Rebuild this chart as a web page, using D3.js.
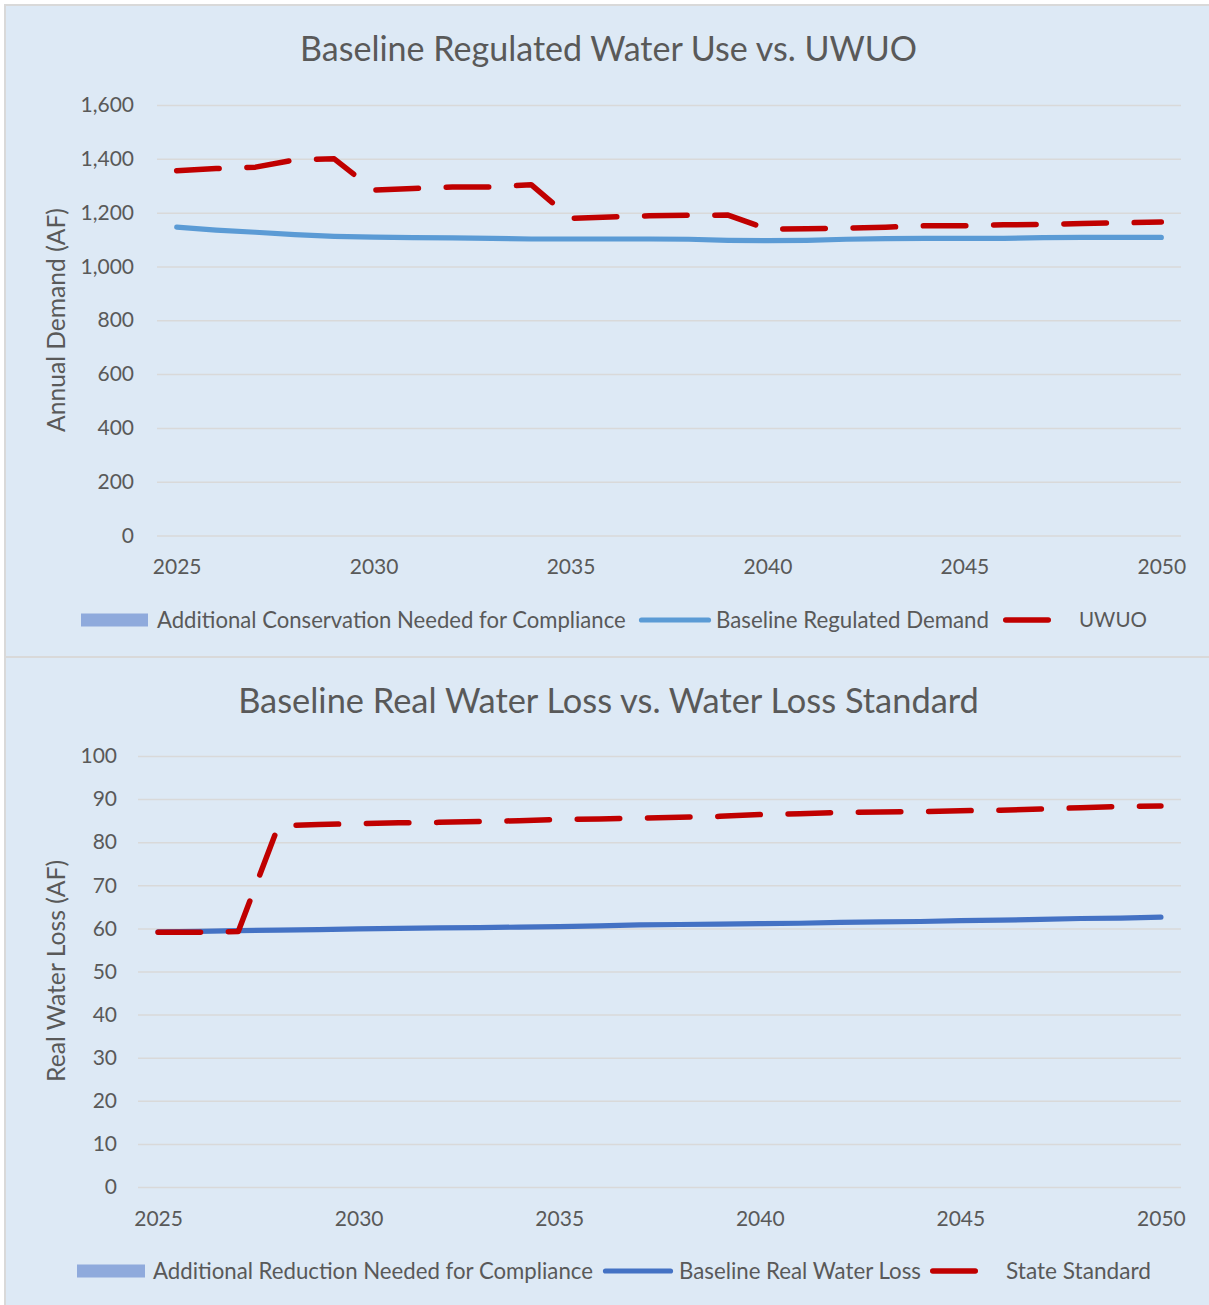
<!DOCTYPE html>
<html>
<head>
<meta charset="utf-8">
<script src="https://cdn.jsdelivr.net/npm/d3@7"></script>
<style>
  html, body { margin: 0; padding: 0; background: #ffffff; }
  svg { display: block; }
  text { font-family: Lato, "Open Sans", "Noto Sans", sans-serif; fill: #595959; }
</style>
</head>
<body>
<svg id="chart" width="1209" height="1305"></svg>
<script>
// ---------- DATA ----------
const years = [2025, 2026, 2027, 2028, 2029, 2030, 2031, 2032, 2033, 2034, 2035, 2036, 2037,
               2038, 2039, 2040, 2041, 2042, 2043, 2044, 2045, 2046, 2047, 2048, 2049, 2050];
const xTickYears = [2025, 2030, 2035, 2040, 2045, 2050];

// Chart 1: Baseline Regulated Water Use vs. UWUO (AF)
const conservationNeeded = [0, 0, 0, 0, 0, 0, 0, 0, 0, 0, 0, 0, 0, 0, 0, 0, 0, 0, 0, 0, 0, 0, 0, 0, 0, 0];
const baselineDemand = [1146, 1135, 1127, 1118, 1112, 1109, 1107, 1106, 1104, 1102, 1102, 1102, 1102,
                        1101, 1097, 1096, 1097, 1101, 1103, 1104, 1104, 1104, 1107, 1108, 1108, 1108];
const uwuo = [1356, 1364, 1369, 1396, 1400, 1284, 1290, 1295, 1295, 1304, 1179, 1184, 1188,
              1190, 1191, 1139, 1140, 1142, 1146, 1151, 1151, 1155, 1156, 1160, 1162, 1165];
const yTicks1 = [0, 200, 400, 600, 800, 1000, 1200, 1400, 1600];

// Chart 2: Baseline Real Water Loss vs. Water Loss Standard (AF)
const reductionNeeded = [0, 0, 0, 0, 0, 0, 0, 0, 0, 0, 0, 0, 0, 0, 0, 0, 0, 0, 0, 0, 0, 0, 0, 0, 0, 0];
const realWaterLoss = [59.2, 59.3, 59.5, 59.6, 59.7, 59.9, 60.0, 60.1, 60.2, 60.3, 60.4, 60.6, 60.8,
                       60.9, 61.0, 61.1, 61.2, 61.4, 61.5, 61.6, 61.8, 61.9, 62.1, 62.3, 62.4, 62.6];
const stateStandard = [59.1, 59.1, 59.3, 83.8, 84.1, 84.3, 84.5, 84.6, 84.8, 85.0, 85.3, 85.4, 85.6,
                       85.8, 86.0, 86.4, 86.6, 86.9, 87.0, 87.1, 87.3, 87.4, 87.7, 88.0, 88.3, 88.4];
const yTicks2 = [0, 10, 20, 30, 40, 50, 60, 70, 80, 90, 100];

// ---------- DRAWING ----------
const svg = d3.select("#chart");
const BG = "#dde9f5", BORDER = "#d9d9d9", TXT = "#595959";
const RED = "#c00000", AREA = "#8faadc";

svg.append("rect").attr("x", 0).attr("y", 0).attr("width", 1209).attr("height", 1305).attr("fill", "#ffffff");
svg.append("rect").attr("x", 5).attr("y", 5).attr("width", 1210).attr("height", 1310)
   .attr("fill", BG).attr("stroke", BORDER).attr("stroke-width", 2);
svg.append("line").attr("x1", 5).attr("x2", 1209).attr("y1", 657).attr("y2", 657)
   .attr("stroke", BORDER).attr("stroke-width", 2);

function fit(sel, w) {
  sel.each(function () {
    const t = d3.select(this);
    const fs = parseFloat(t.attr("font-size"));
    const len = this.getComputedTextLength();
    if (len > 0) t.attr("font-size", (fs * w / len).toFixed(2));
  });
}

function drawChart(cfg) {
  const g = svg.append("g");
  const x = d3.scalePoint().domain(years).range([cfg.left, cfg.right]).padding(0.5);
  const y = d3.scaleLinear().domain([cfg.yTicks[0], cfg.yTicks[cfg.yTicks.length - 1]])
              .range([cfg.bottom, cfg.top]);

  // y axis with gridlines
  const ya = g.append("g").attr("transform", `translate(${cfg.left},0)`)
    .call(d3.axisLeft(y).tickValues(cfg.yTicks).tickFormat(d3.format(","))
          .tickSize(-(cfg.right - cfg.left)).tickPadding(cfg.tickPad));
  ya.select(".domain").remove();
  ya.selectAll(".tick line").attr("stroke", BORDER).attr("stroke-width", 1.5);
  ya.selectAll(".tick text").attr("font-size", 21).attr("fill", TXT)
    .style("font-family", "Lato, sans-serif");

  // x axis labels
  const xa = g.append("g").attr("transform", `translate(0,${cfg.bottom})`)
    .call(d3.axisBottom(x).tickValues(xTickYears).tickFormat(d3.format("d")).tickSize(0));
  xa.select(".domain").remove();
  xa.selectAll(".tick text").attr("y", 31.5).attr("dy", "0.35em").attr("font-size", 21)
    .attr("fill", TXT).style("font-family", "Lato, sans-serif");

  // area series (additional needed) stacked on baseline
  const area = d3.area().x((d, i) => x(years[i]))
    .y0((d, i) => y(cfg.base[i])).y1((d, i) => y(cfg.base[i] + d));
  g.append("path").datum(cfg.areaVals).attr("d", area).attr("fill", AREA);

  const line = d3.line().x((d, i) => x(years[i])).y(d => y(d));
  g.append("path").datum(cfg.base).attr("d", line).attr("fill", "none")
    .attr("stroke", cfg.blue).attr("stroke-width", 5.2)
    .attr("stroke-linecap", "round").attr("stroke-linejoin", "round");
  g.append("path").datum(cfg.std).attr("d", line).attr("fill", "none")
    .attr("stroke", RED).attr("stroke-width", 5.5).attr("stroke-dasharray", "42.5 27.8")
    .attr("stroke-linecap", "round").attr("stroke-linejoin", "round");

  // title
  const title = g.append("text").attr("x", cfg.titleCx).attr("y", cfg.titleY)
    .attr("text-anchor", "middle").attr("font-size", 32).attr("fill", TXT).text(cfg.title);
  fit(title, cfg.titleW);

  // y axis title
  const yt = g.append("text").attr("transform", `translate(${cfg.ytX},${cfg.ytCy}) rotate(-90)`)
    .attr("text-anchor", "middle").attr("dy", "0.35em").attr("font-size", 21).attr("fill", TXT)
    .text(cfg.yTitle);
  fit(yt, cfg.ytW);

  // legend
  const ly = cfg.legendY;
  const L = cfg.legend;
  g.append("rect").attr("x", L.rect[0]).attr("y", ly - 6.5).attr("width", L.rect[1] - L.rect[0])
    .attr("height", 13).attr("fill", AREA);
  g.append("line").attr("x1", L.blue[0] + 2.5).attr("x2", L.blue[1] - 2.5).attr("y1", ly).attr("y2", ly)
    .attr("stroke", cfg.blue).attr("stroke-width", 5.2).attr("stroke-linecap", "round");
  g.append("line").attr("x1", L.red[0] + 2.75).attr("x2", L.red[1] - 2.75).attr("y1", ly).attr("y2", ly)
    .attr("stroke", RED).attr("stroke-width", 5.5).attr("stroke-linecap", "round");
  L.texts.forEach(t => {
    const tx = g.append("text").attr("x", t.x0).attr("y", ly).attr("dy", "0.35em")
      .attr("font-size", 20).attr("fill", TXT).text(t.label);
    fit(tx, t.x1 - t.x0);
  });
}

drawChart({
  left: 157, right: 1181, top: 105, bottom: 535.5, tickPad: 23,
  yTicks: yTicks1, base: baselineDemand, std: uwuo, areaVals: conservationNeeded,
  blue: "#5b9bd5",
  title: "Baseline Regulated Water Use vs. UWUO", titleCx: 608.5, titleY: 61, titleW: 617,
  yTitle: "Annual Demand (AF)", ytX: 56, ytCy: 320, ytW: 224,
  legendY: 620,
  legend: {
    rect: [81, 148], blue: [639, 711], red: [1003, 1051],
    texts: [
      { label: "Additional Conservation Needed for Compliance", x0: 157, x1: 626 },
      { label: "Baseline Regulated Demand", x0: 716, x1: 989 },
      { label: "UWUO", x0: 1079, x1: 1147 }
    ]
  }
});

drawChart({
  left: 138, right: 1181, top: 756, bottom: 1187, tickPad: 21,
  yTicks: yTicks2, base: realWaterLoss, std: stateStandard, areaVals: reductionNeeded,
  blue: "#4472c4",
  title: "Baseline Real Water Loss vs. Water Loss Standard", titleCx: 608.5, titleY: 713, titleW: 741,
  yTitle: "Real Water Loss (AF)", ytX: 56, ytCy: 971, ytW: 222,
  legendY: 1271,
  legend: {
    rect: [77, 145], blue: [603, 673], red: [930, 978],
    texts: [
      { label: "Additional Reduction Needed for Compliance", x0: 153, x1: 593 },
      { label: "Baseline Real Water Loss", x0: 679, x1: 921 },
      { label: "State Standard", x0: 1006, x1: 1151 }
    ]
  }
});
</script>
</body>
</html>
